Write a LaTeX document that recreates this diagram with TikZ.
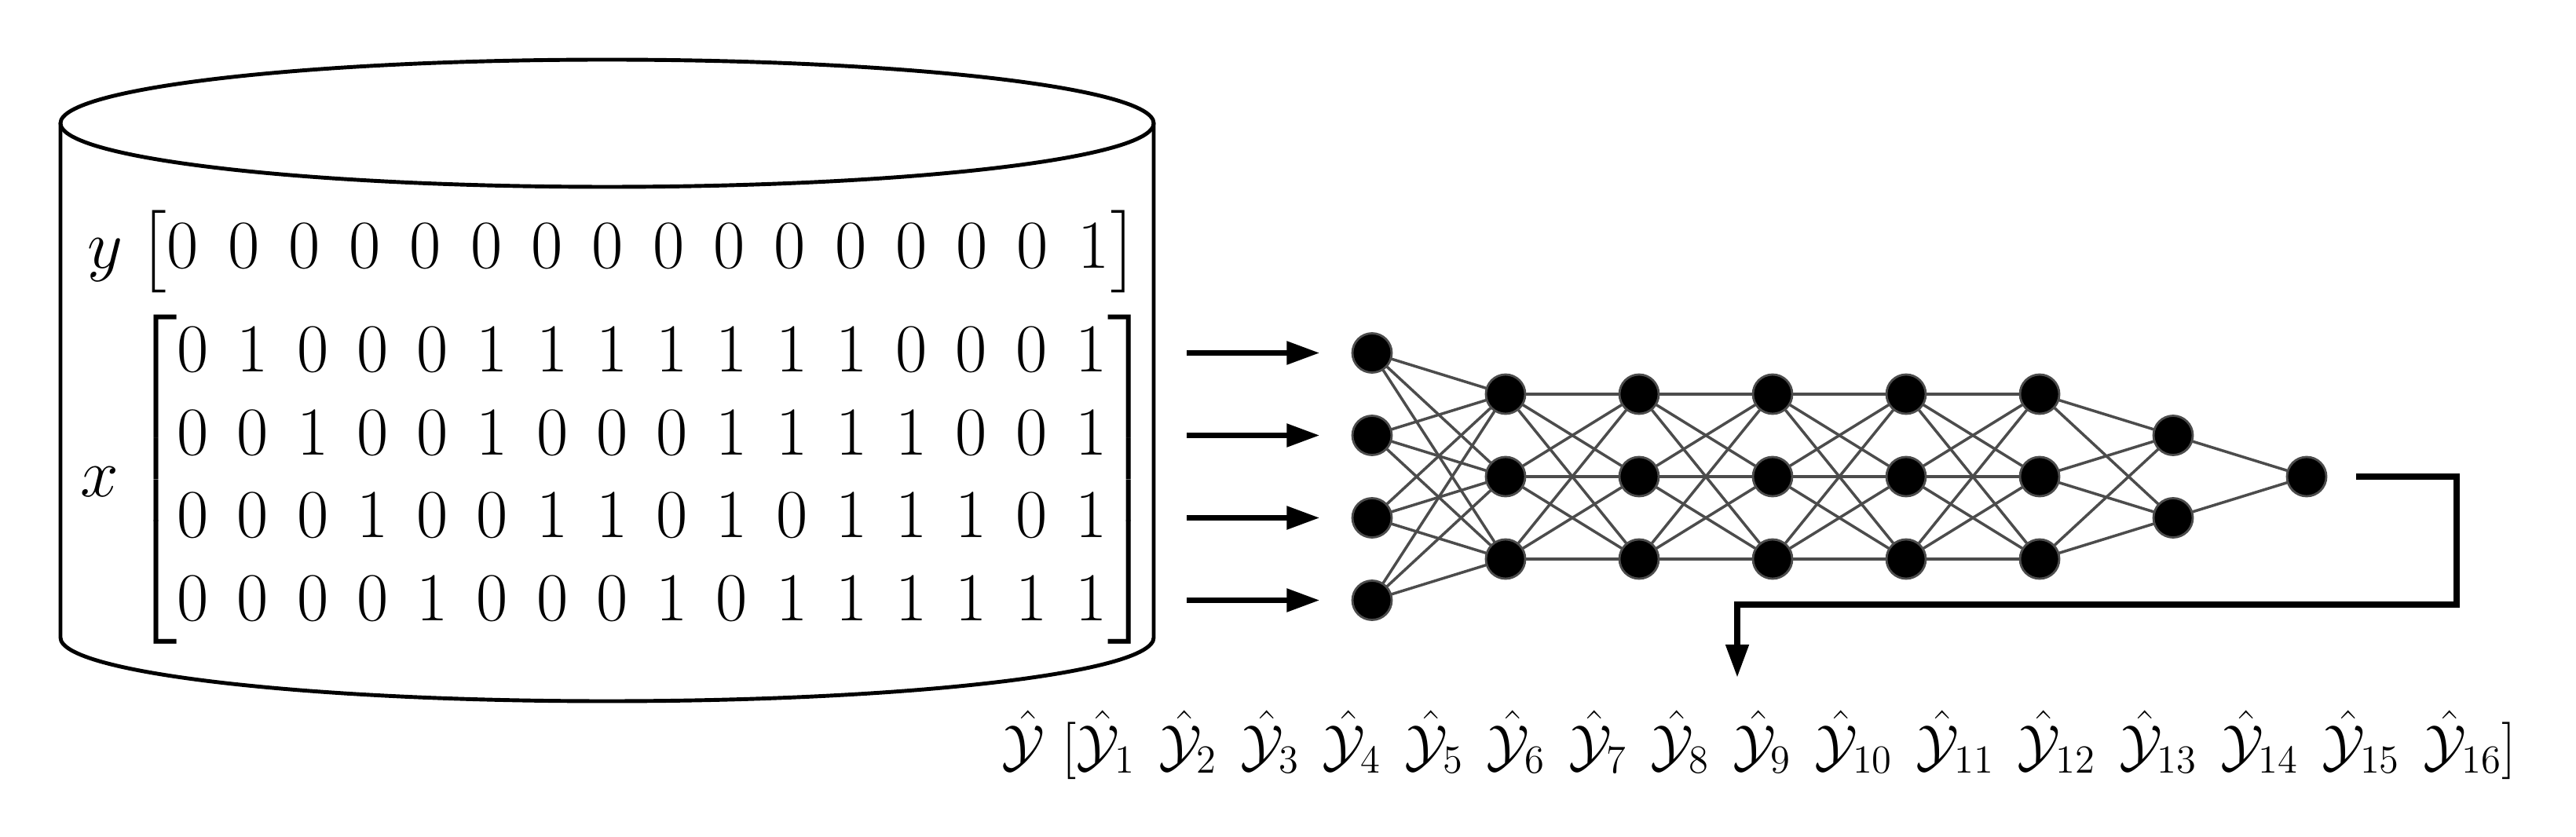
\documentclass[tikz,border=0pt]{standalone}
\usepackage{amsmath}
\setcounter{MaxMatrixCols}{20}
\usetikzlibrary{arrows.meta}
\newcommand{\yh}[1]{\hat{\mathcal{Y}}_{#1}\hspace{8.3pt}}
\begin{document}
\begin{tikzpicture}[line join=round, line cap=round,
	neuron/.style={circle, fill=black, draw=black!70, line width=0.8pt, minimum size=0.5cm, inner sep=0pt},
	edge/.style={black!70, line width=1pt},
	feed/.style={line width=2.2pt, line cap=butt, line join=miter, -{Triangle[length=12pt,width=8pt]}}]
	\useasboundingbox (0,0) rectangle (32.8,10.65);
	\def\cx{7.73} \def\rx{6.96} \def\ry{0.81} \def\ytop{9.08} \def\ybot{2.53} % cylinder
	\draw[line width=1.4pt] (\cx,\ytop) ellipse ({\rx} and {\ry});
	\draw[line width=1.4pt] (\cx-\rx,\ytop) -- (\cx-\rx,\ybot) arc (180:360:\rx cm and \ry cm) -- (\cx+\rx,\ytop);
	% data
	\node[font=\Huge, inner sep=0pt, anchor=base] (ylab) at (1.34,7.23) {$y$};
	\node[font=\Huge, inner sep=0pt] (ymat) at (8.13,7.45) {\setlength\arraycolsep{5.3pt}$\begin{bmatrix}0&0&0&0&0&0&0&0&0&0&0&0&0&0&0&1\end{bmatrix}$};
	\node[font=\Huge, inner sep=0pt, anchor=base] (xlab) at (1.27,4.32) {$x$};
	\node[font=\Huge, inner sep=0pt] (xmat) at (8.18,4.54) {\setlength\arraycolsep{5.15pt}$\begin{bmatrix}
			0&1&0&0&0&1&1&1&1&1&1&1&0&0&0&1\\
			0&0&1&0&0&1&0&0&0&1&1&1&1&0&0&1\\
			0&0&0&1&0&0&1&1&0&1&0&1&1&1&0&1\\
			0&0&0&0&1&0&0&0&1&0&1&1&1&1&1&1
		\end{bmatrix}$};
	% network
	\def\dx{1.7} \def\dy{1.05}
	\foreach \l/\n in {1/4,2/3,3/3,4/3,5/3,6/3,7/2,8/1}
	\foreach \j in {1,...,\n}
	\node[neuron] (n-\l-\j) at ({17.47+(\l-1)*\dx},{4.58+(\n+1)/2*\dy-\j*\dy}) {};
	\foreach \l/\n/\m in {1/4/3,2/3/3,3/3/3,4/3/3,5/3/3,6/3/2,7/2/1}{
		\pgfmathtruncatemacro\k{\l+1}
		\foreach \i in {1,...,\n}
		\foreach \j in {1,...,\m}
		\draw[edge] (n-\l-\i) -- (n-\k-\j);
	}
	\foreach \j in {1,...,4}
	\draw[feed] ([xshift=0.42cm]xmat.east |- n-1-\j) -- ([xshift=-0.4cm]n-1-\j.west);
	% output
	\coordinate (bend) at (31.28,2.95);
	\coordinate (yin) at (22.12,2.02);
	\draw[feed] ([xshift=0.37cm]n-8-1.east) -| (bend) -| (yin);
	\node[font=\huge, inner sep=0pt, anchor=base west] (yhat) at (12.75,0.91) {$\hat{\mathcal{Y}}\ [\yh1\yh2\yh3\yh4\yh5\yh6\yh7\yh8\yh9\yh{10}\yh{11}\yh{12}\yh{13}\yh{14}\yh{15}\hat{\mathcal{Y}}_{16}]$};
\end{tikzpicture}
\end{document}
